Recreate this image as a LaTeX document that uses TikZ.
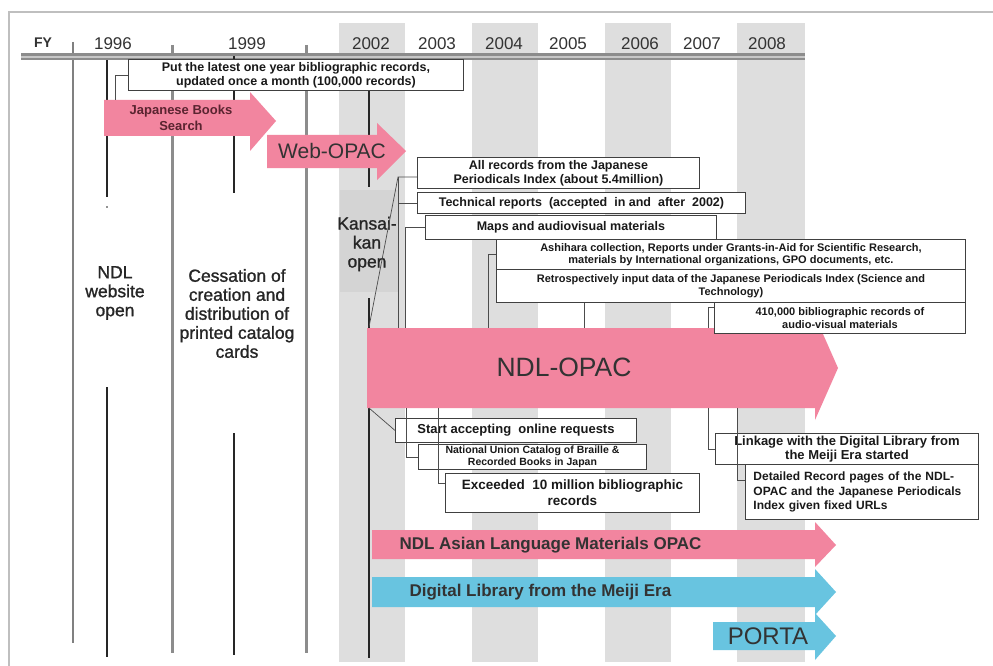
\documentclass[tikz,border=0pt]{standalone}
\usepackage{fontspec}
\setmainfont{Liberation Sans}
\newfontfamily\medfont[FakeBold=1.2]{Liberation Sans}
\usetikzlibrary{shadows}
\definecolor{pk}{HTML}{F2859F}
\definecolor{bl}{HTML}{68C4E0}
\definecolor{stripe}{HTML}{DEDEDE}
\definecolor{kans}{HTML}{D4D4D4}
\definecolor{txt}{HTML}{333333}
\definecolor{jbstxt}{HTML}{5A2430}
\begin{document}
\begin{tikzpicture}[x=1pt,y=-1pt,
  cn/.style={draw=black!70, line width=0.7pt},
  dk/.style={draw=black!85, line width=2.2pt},
  gl/.style={draw=black!45, line width=3pt},
  bx/.style={draw=black!75, line width=0.9pt, fill=white, inner sep=1pt, align=center,
    anchor=north west, font=\fontsize{12.5}{14}\selectfont\bfseries, text=black!90,
    drop shadow={shadow xshift=0.9pt, shadow yshift=-0.9pt, fill=black!45, opacity=1}},
  sbx/.style={bx, font=\fontsize{11}{12.5}\selectfont\bfseries},
  yr/.style={font=\fontsize{17}{17}\selectfont, text=black!80},
  big/.style={align=center, font=\medfont\fontsize{17.5}{19}\selectfont, text=black!85},
  arrtxt/.style={font=\fontsize{17}{17}\selectfont\bfseries, text=txt, anchor=west}]
\useasboundingbox (0,0) rectangle (993,666);
\fill[white] (0,0) rectangle (993,666);
% frame
\draw[black!25, line width=1.5pt] (9,666) -- (9,12) -- (993,12);
% stripes
\foreach \a/\b in {339/405,472/538,605/671,737/805} \fill[stripe] (\a,23) rectangle (\b,662);
\fill[kans] (340,190) rectangle (398,292);
% vertical lines
\draw[black!50, line width=1.2pt] (73,42) -- (73,643);
\draw[gl] (172,45) -- (172,653);
\draw[gl] (306,45) -- (306,653);
% header double line
\fill[black!45] (21,53.5) rectangle (805,60.5);
\draw[black!22, line width=1.4pt] (21,57) -- (805,57);
\draw[dk] (107,60) -- (107,197);
\draw[dk] (107,387) -- (107,657);
\fill[black!85] (107,207) circle (0.9);
\draw[dk] (234,56) -- (234,193);
\draw[dk] (234,433) -- (234,655);
\draw[dk] (369,60) -- (369,187);
\draw[dk] (369,298) -- (369,658);
% years
\node[yr, font=\fontsize{14}{14}\selectfont\bfseries] (fy) at (43,43) {FY};
\node[yr] (y1996) at (113,44) {1996};
\node[yr] (y1999) at (247,44) {1999};
\node[yr] (y2002) at (371,44) {2002};
\node[yr] (y2003) at (437,44) {2003};
\node[yr] (y2004) at (504,44) {2004};
\node[yr] (y2005) at (568,44) {2005};
\node[yr] (y2006) at (640,44) {2006};
\node[yr] (y2007) at (702,44) {2007};
\node[yr] (y2008) at (767,44) {2008};
% left texts
\node[big] (web) at (115,293) {NDL\\website\\open};
\node[big] (cess) at (237,313.5) {Cessation of\\creation and\\distribution of\\printed catalog\\cards};
\node[big] (kan) at (367,244) {Kansai-\\kan\\open};
% arrows
\fill[pk] (104,100) -- (250,100) -- (250,92) -- (276,121) -- (250,151) -- (250,136) -- (104,136) -- cycle;
\node[align=center, font=\fontsize{13}{16}\selectfont\bfseries, text=jbstxt] (jbs) at (181,118) {Japanese Books\\Search};
\fill[pk] (267,135) -- (377,135) -- (377,123) -- (406,151) -- (377,180) -- (377,168) -- (267,168) -- cycle;
\node[font=\fontsize{21}{21}\selectfont, text=txt] (wopac) at (332,151) {Web-OPAC};
\fill[pk] (367,328) -- (815,328) -- (815,316) -- (838,368) -- (815,420) -- (815,408) -- (367,408) -- cycle;
\node[font=\fontsize{26.5}{26.5}\selectfont, text=txt] (ndl) at (564,367) {NDL-OPAC};
\fill[pk] (372,530) -- (815,530) -- (815,522) -- (836,545) -- (815,567) -- (815,559) -- (372,559) -- cycle;
\node[arrtxt] (asian) at (396,545) {NDL Asian Language Materials OPAC};
\fill[bl] (372,577) -- (815,577) -- (815,569) -- (836,592) -- (815,615) -- (815,607) -- (372,607) -- cycle;
\node[arrtxt] (dlib) at (406,592) {Digital Library from the Meiji Era};
\fill[bl] (713,622) -- (815,622) -- (815,613) -- (836,636) -- (815,660) -- (815,650) -- (713,650) -- cycle;
\node[font=\fontsize{24}{24}\selectfont, text=txt] (porta) at (768,636) {PORTA};
% connector end points
\coordinate (jbstop) at (115,100);
\coordinate (k0) at (369,327);
\coordinate (k1) at (398,177);
\coordinate (k2) at (398,328);
\coordinate (k3) at (405,328);
\coordinate (k4) at (488,328);
\coordinate (k5) at (584,328);
\coordinate (k6) at (708,328);
\coordinate (k6a) at (708,307);
\coordinate (s0) at (369,408);
\coordinate (s1) at (406,408);
\coordinate (s2) at (438,408);
\coordinate (s2a) at (438,483);
\coordinate (s3) at (708,408);
\coordinate (s4) at (737,408);
\coordinate (s4a) at (737,480);
% boxes
\node[bx, minimum width=335pt, minimum height=31pt] (put) at (128,59) {Put the latest one year bibliographic records,\\updated once a month (100,000 records)};
\node[bx, minimum width=282pt, minimum height=31pt] (allrec) at (417,157) {All records from the Japanese\\Periodicals Index (about 5.4million)};
\node[bx, minimum width=328pt, minimum height=21pt] (tech) at (417,192) {Technical reports \ (accepted \ in and \ after \ 2002)};
\node[bx, minimum width=291pt, minimum height=24pt] (maps) at (425,215) {Maps and audiovisual materials};
\node[sbx, minimum width=469pt, minimum height=30pt] (ashi) at (496,239) {Ashihara collection, Reports under Grants-in-Aid for Scientific Research,\\materials by International organizations, GPO documents, etc.};
\node[sbx, minimum width=469pt, minimum height=33pt] (retro) at (496,269) {Retrospectively input data of the Japanese Periodicals Index (Science and\\Technology)};
\node[sbx, minimum width=251pt, minimum height=31pt] (k410) at (714,302) {410,000 bibliographic records of\\audio-visual materials};
\node[bx, font=\fontsize{13}{14}\selectfont\bfseries, minimum width=241pt, minimum height=24pt] (start) at (395,418) {Start accepting \ online requests};
\node[sbx, font=\fontsize{10.5}{12}\selectfont\bfseries, minimum width=228pt, minimum height=25pt] (natu) at (418,444) {National Union Catalog of Braille \&\\Recorded Books in Japan};
\node[bx, font=\fontsize{13.5}{16}\selectfont\bfseries, minimum width=254pt, minimum height=39pt] (exc) at (445,473) {Exceeded \ 10 million bibliographic\\records};
\node[bx, font=\fontsize{13}{14.5}\selectfont\bfseries, minimum width=263pt, minimum height=31pt] (link) at (715,433) {Linkage with the Digital Library from\\the Meiji Era started};
\node[bx, font=\fontsize{12}{14.5}\selectfont\bfseries, align=left, minimum width=233pt, minimum height=55pt, text width=217pt, inner xsep=8pt] (detail) at (745,464) {Detailed Record pages of the NDL-\\OPAC and the Japanese Periodicals\\Index given fixed URLs};
% connectors
\draw[cn] (put.west) -| (jbstop);
\draw[cn] (k0) -- (k1) -- (allrec.west |- k1);
\draw[cn] (k1) -- (k2);
\draw[cn] (tech.west) -| (k2);
\draw[cn] (maps.west) -| (k3);
\draw[cn] (ashi.west) -| (k4);
\draw[cn] (retro.south -| k5) -- (k5);
\draw[cn] (k6) -- (k6a) -- (k410.west |- k6a);
\draw[cn] (s0) -- (start.west);
\draw[cn] (s1) |- (natu.west);
\draw[cn] (s2) -- (s2a) -- (exc.west |- s2a);
\draw[cn] (s3) |- (link.west);
\draw[cn] (s4) -- (s4a) -- (detail.west |- s4a);
\end{tikzpicture}
\end{document}
